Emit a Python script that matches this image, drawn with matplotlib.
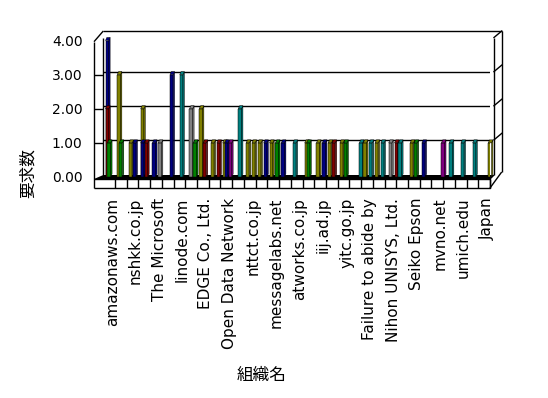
import numpy as np
import matplotlib
matplotlib.use('Agg')
import matplotlib.pyplot as plt
from matplotlib import transforms
from matplotlib.patches import Polygon
from matplotlib.colors import to_rgb

plt.rcParams['font.family'] = ['DejaVu Sans', 'Noto Sans CJK JP']

# organisations (only every other one is labelled on the axis)
labels = ['amazonaws.com', 'nshkk.co.jp', 'The Microsoft', 'linode.com',
          'EDGE Co., Ltd.', 'Open Data Network', 'nttct.co.jp',
          'messagelabs.net', 'atworks.co.jp', 'iij.ad.jp', 'yitc.go.jp',
          'Failure to abide by', 'Nihon UNISYS, Ltd.', 'Seiko Epson',
          'mvno.net', 'umich.edu', 'Japan']
n_cat = 33

# one entry per bar: category index, sub-series slot, value, series code
bar_cat = [0, 0, 0, 1, 1, 2, 2, 3, 3, 3, 4, 4, 5, 6, 7, 7, 8, 8, 9, 9,
           10, 10, 10, 11, 12, 12, 13, 13, 14, 14, 15, 16, 17, 17, 18, 18,
           19, 19, 20, 20, 21, 22, 22, 23, 23, 24, 24, 25, 26, 26, 27, 28,
           29, 30, 31, 32]
bar_slot = [0, 0, 1, 0, 1, 0, 2, 0, 0, 2, 0, 3, 3, 2, 1, 3, 0, 2, 0, 3,
            0, 1, 3, 2, 0, 3, 0, 3, 0, 3, 0, 0, 0, 1, 0, 3,
            0, 2, 0, 2, 4, 0, 3, 0, 3, 1, 4, 0, 0, 2, 0, 4,
            2, 2, 2, 4]
bar_val = [4, 2, 1, 3, 1, 1, 1, 2, 1, 1, 1, 1, 3, 3, 2, 1, 2, 1, 1, 1,
           1, 1, 1, 2, 1, 1, 1, 1, 1, 1, 1, 1, 1, 1, 1, 1,
           1, 1, 1, 1, 1, 1, 1, 1, 1, 1, 1, 1, 1, 1, 1, 1,
           1, 1, 1, 1]
bar_series = list('NMGOGONONMNANTAGOMOMONPTOOONOGNTOGONOMOGTOTOTAMTOGNPTTTO')

palette = {'N': '#000080', 'M': '#800000', 'G': '#008000', 'O': '#808000',
           'A': '#808080', 'T': '#008080', 'P': '#800080'}

W, H = 548, 398
fig = plt.figure(figsize=(W / 100, H / 100), dpi=100)

# frame / walls in pixel space
fr = fig.add_axes([0, 0, 1, 1], zorder=0)
fr.set_xlim(0, W)
fr.set_ylim(H, 0)
fr.axis('off')
lk = dict(color='black', lw=1.0, solid_capstyle='butt')

# left wall front edge and top
fr.plot([94, 94], [41.7, 188], **lk)
fr.plot([94, 103.3], [41.7, 31], **lk)
# back wall top thickness and right edge
fr.plot([103.3, 501.7], [31, 31], **lk)
fr.plot([103.3, 103.3], [37.7, 175], **lk)
fr.plot([494, 494], [37.7, 175], **lk)
fr.plot([501.7, 501.7], [31, 172], **lk)
# floor front face with tick cells
fr.fill([94, 490, 494, 103.3], [179, 179, 175, 175], color='black', lw=0)
fr.plot([94, 490, 490, 94], [179, 179, 188, 188], **lk)
for k in range(1, n_cat + 1):
    xk = 103.3 + k * (490 - 103.3) / n_cat
    fr.plot([xk, xk], [179, 188], **lk)
fr.plot([490, 501.7], [188, 172], **lk)
fr.plot([490, 494], [179, 175], **lk)

# data axes
ax = fig.add_axes([103.3 / W, (H - 177) / H, (490 - 103.3) / W, (177 - 40.5) / H],
                  zorder=1)
ax.patch.set_visible(False)
ax.set_xlim(0, n_cat)
ax.set_ylim(0, 4)
for s in ax.spines.values():
    s.set_visible(False)

yt = [0, 1, 2, 3, 4]
ax.set_yticks(yt)
ax.set_yticklabels(['%.2f' % v for v in yt], fontsize=10)
ax.tick_params(axis='y', length=0, pad=15)

# back wall grid (shifted up by the depth) and left-wall ticks
back = ax.transData + transforms.ScaledTranslation(0, 0.03, fig.dpi_scale_trans)
ax.hlines(yt[1:], 0, 33.34, colors='black', lw=1.0, transform=back, zorder=0.5)
ax.hlines(yt[1:4], -0.8, 0, colors='black', lw=1.0, clip_on=False, zorder=0.5)
for v in yt[1:]:
    ax.plot([33.34, 34.0], [v, v + 0.19], color='black', lw=1.0,
            transform=back, clip_on=False)

ax.set_xticks(np.arange(0, n_cat, 2) + 0.5)
ax.set_xticklabels(labels, rotation=90, fontsize=11, va='top', ha='center')
ax.tick_params(axis='x', length=0, pad=15)
shift = transforms.ScaledTranslation(0.03, 0, fig.dpi_scale_trans)
for t in ax.get_xticklabels():
    t.set_transform(t.get_transform() + shift)

# 3D-looking bars
w = 0.28
dx, dy = 1.3 / 11.72, 3.0 / 34.1
z = 2
for c, s, v, code in zip(bar_cat, bar_slot, bar_val, bar_series):
    col = to_rgb(palette[code])
    x0 = c + 0.19 + 0.166 * s
    ax.bar(x0, v, width=w, align='edge', color=col, edgecolor='black',
           linewidth=0.35, zorder=z)
    ax.add_patch(Polygon([(x0 + w, 0), (x0 + w + dx, dy), (x0 + w + dx, v + dy),
                          (x0 + w, v)], closed=True, facecolor=col,
                         edgecolor='black', lw=0.35, zorder=z, clip_on=False))
    ax.add_patch(Polygon([(x0, v), (x0 + w, v), (x0 + w + dx, v + dy),
                          (x0 + dx, v + dy)], closed=True, facecolor=col,
                         edgecolor='black', lw=0.35, zorder=z, clip_on=False))
    z += 1

fig.text(28 / W, 1 - 173 / H, '要求数', rotation=90, fontsize=12,
         ha='center', va='center')
fig.text(262 / W, 1 - 375 / H, '組織名', fontsize=12, ha='center', va='center')

fig.savefig('out.png', dpi=100)
